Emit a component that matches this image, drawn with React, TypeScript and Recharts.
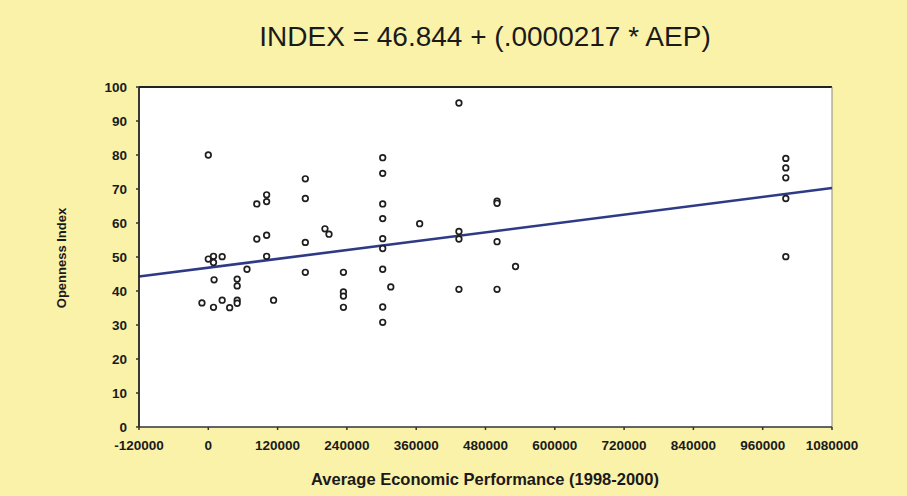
import React from "react";
import {
  ScatterChart,
  Scatter,
  XAxis,
  YAxis,
  ReferenceLine,
  ReferenceArea,
} from "recharts";

const aepValues: number[] = [
  -11000, 0, 0, 9000, 9000, 10000, 9000, 24000, 24000, 37000,
  50000, 50000, 50000, 50000, 67000, 84000, 84000, 101000, 101000, 101000,
  101000, 113000, 168000, 168000, 168000, 168000, 202000, 209000, 234000, 234000,
  234000, 234000, 302000, 302000, 302000, 302000, 302000, 302000, 302000, 302000,
  302000, 316000, 366000, 434000, 434000, 434000, 434000, 500000, 500000, 500000,
  500000, 532000, 1000000, 1000000, 1000000, 1000000, 1000000,
];

const indexValues: number[] = [
  36.5, 80, 49.4, 50.2, 48.4, 43.3, 35.2, 50.1, 37.3, 35.1,
  43.5, 41.5, 37.3, 36.4, 46.4, 65.6, 55.3, 68.3, 66.3, 56.4,
  50.2, 37.3, 73, 67.2, 54.3, 45.5, 58.3, 56.7, 45.5, 39.7,
  38.5, 35.2, 79.2, 74.6, 65.6, 61.3, 55.4, 52.5, 46.4, 35.3,
  30.8, 41.2, 59.8, 95.3, 57.5, 55.3, 40.5, 66.4, 65.8, 54.5,
  40.5, 47.2, 79, 76.2, 73.3, 67.2, 50.1,
];

const xTicks: number[] = [-120000, 0, 120000, 240000, 360000, 480000, 600000, 720000, 840000, 960000, 1080000];
const yTicks: number[] = [0, 10, 20, 30, 40, 50, 60, 70, 80, 90, 100];

const intercept = 46.844;
const slope = 0.0000217;

const points = aepValues.map((x, i) => ({ x, y: indexValues[i] }));

const FONT = "'Liberation Sans', Arial, sans-serif";

const Ring = (props: any) => {
  const { cx, cy } = props;
  if (cx == null || cy == null) return null;
  return <circle cx={cx} cy={cy} r={2.8} fill="#ffffff" stroke="#1e1e1e" strokeWidth={1.7} />;
};

export default function App() {
  const x0 = xTicks[0];
  const x1 = xTicks[xTicks.length - 1];
  return (
    <div
      style={{
        position: "absolute",
        left: 0,
        top: 0,
        width: 907,
        height: 496,
        background: "#FAF2A9",
        fontFamily: FONT,
      }}
    >
      <div
        style={{
          position: "absolute",
          left: 0,
          top: 20,
          width: 970,
          textAlign: "center",
          fontSize: 28,
          lineHeight: "34px",
          color: "#1a1a1a",
          fontFamily: FONT,
        }}
      >
        INDEX = 46.844 + (.0000217 * AEP)
      </div>
      <div
        style={{
          position: "absolute",
          left: 0,
          top: 469,
          width: 970,
          textAlign: "center",
          fontSize: 16.5,
          lineHeight: "20px",
          fontWeight: 700,
          color: "#1a1a1a",
          fontFamily: FONT,
        }}
      >
        Average Economic Performance (1998-2000)
      </div>
      <div
        style={{
          position: "absolute",
          left: 62 - 60,
          top: 258 - 8,
          width: 120,
          textAlign: "center",
          fontSize: 13,
          fontWeight: 700,
          color: "#1a1a1a",
          transform: "rotate(-90deg)",
          transformOrigin: "60px 8px",
          fontFamily: FONT,
          lineHeight: "16px",
        }}
      >
        Openness Index
      </div>
      <ScatterChart
        width={907}
        height={496}
        margin={{ top: 87, right: 75, bottom: 39, left: 89 }}
        style={{ position: "absolute", left: 0, top: 0 }}
      >
        <XAxis
          type="number"
          dataKey="x"
          domain={[x0, x1]}
          ticks={xTicks}
          interval={0}
          height={30}
          tickSize={3}
          tickMargin={10}
          axisLine={{ stroke: "#333", strokeWidth: 1.5 }}
          tickLine={{ stroke: "#333", strokeWidth: 1.5 }}
          tick={{ fontSize: 13.5, fill: "#1a1a1a", fontFamily: FONT, fontWeight: 700 }}
          allowDataOverflow
        />
        <YAxis
          type="number"
          dataKey="y"
          domain={[0, 100]}
          ticks={yTicks}
          interval={0}
          width={50}
          tickSize={3}
          tickMargin={9}
          axisLine={{ stroke: "#222", strokeWidth: 1.8 }}
          tickLine={{ stroke: "#333", strokeWidth: 1.5 }}
          tick={{ fontSize: 13.5, fill: "#1a1a1a", fontFamily: FONT, fontWeight: 700 }}
          allowDataOverflow
        />
        <ReferenceArea x1={x0} x2={x1} y1={0} y2={100} fill="#ffffff" fillOpacity={1} stroke="none" />
        <ReferenceLine y={100} stroke="#222" strokeWidth={1.8} />
        <ReferenceLine x={x1} stroke="#888" strokeWidth={1} />
        <ReferenceLine
          segment={[
            { x: x0, y: intercept + slope * x0 },
            { x: x1, y: intercept + slope * x1 },
          ]}
          stroke="#2E3A86"
          strokeWidth={2.6}
        />
        <Scatter data={points} shape={Ring} isAnimationActive={false} />
      </ScatterChart>
    </div>
  );
}
